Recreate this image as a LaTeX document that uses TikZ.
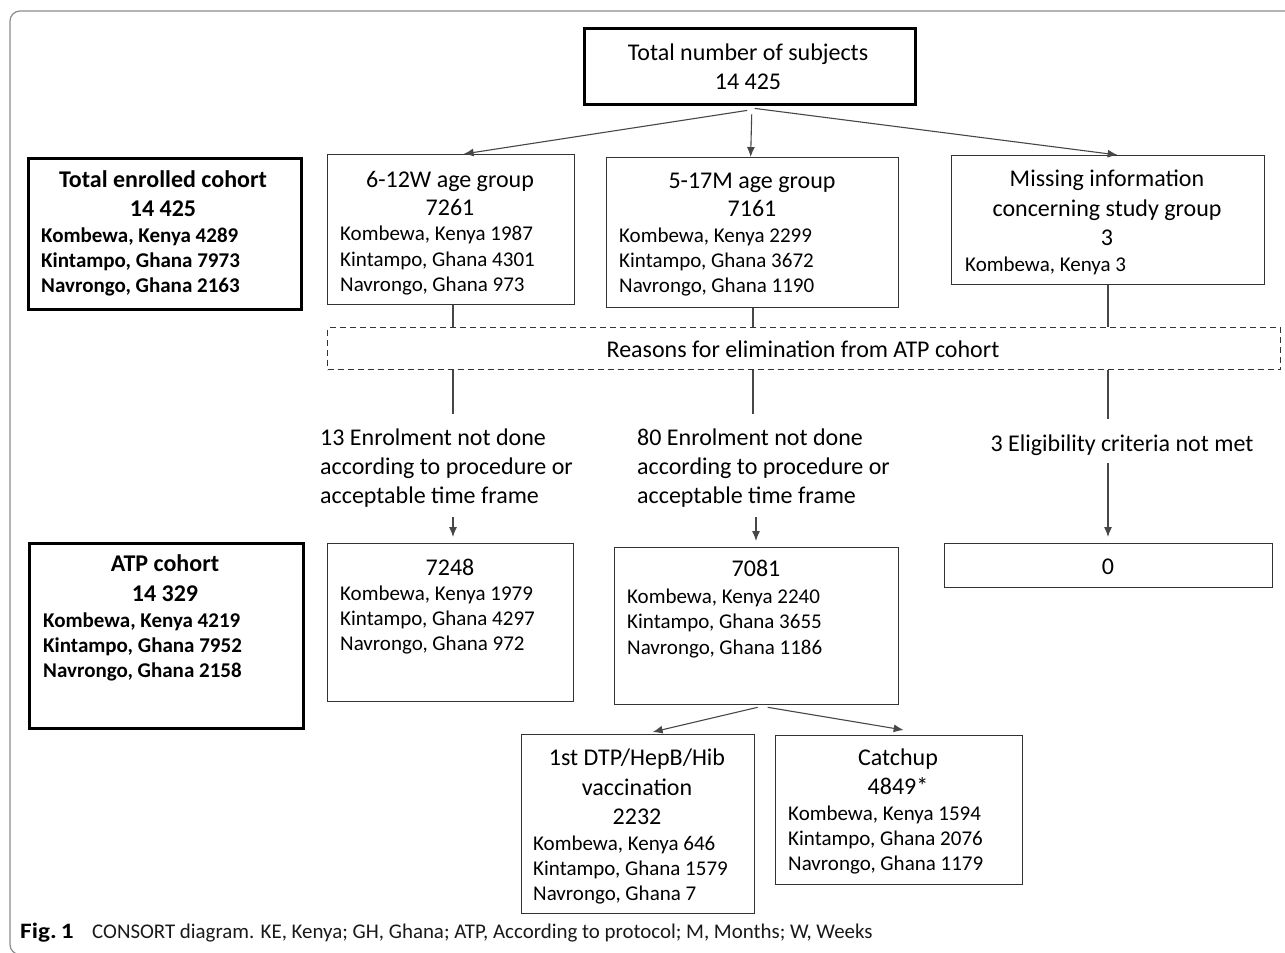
\documentclass[tikz,border=0pt]{standalone}
\usepackage{fontspec}
\setmainfont{Carlito}
\usetikzlibrary{arrows.meta,calc}
\begin{document}
\begin{tikzpicture}[x=1pt,y=-1pt,
  thinbox/.style={draw=black!80, line width=1.3pt, inner sep=0pt, anchor=north west},
  thickbox/.style={draw=black, line width=3.4pt, inner sep=0pt, anchor=north west},
  dashbox/.style={draw=black!80, line width=1.2pt, dash pattern=on 6pt off 4pt, inner sep=0pt, anchor=north west},
  conn/.style={draw=black!72, line width=1.1pt},
  arr/.style={conn, -{Latex[length=10pt,width=8pt]}},
  T/.style={anchor=base, inner sep=0pt, font=\fontsize{24}{28}\selectfont},
  TB/.style={anchor=base, inner sep=0pt, font=\fontsize{24}{28}\selectfont\bfseries},
  R/.style={anchor=base west, inner sep=0pt, font=\fontsize{24}{28}\selectfont},
  L/.style={anchor=base west, inner sep=0pt, font=\fontsize{21}{25}\selectfont},
  LB/.style={anchor=base west, inner sep=0pt, font=\fontsize{21}{25}\selectfont\bfseries}]
\useasboundingbox (0,0) rectangle (1285,953);
% outer frame
\draw[draw=black!45, line width=1.2pt, rounded corners=10pt] (1300,11) -- (10,11) -- (10,954.5) -- (60,954.5);

% boxes
\node[thickbox, minimum width=331pt, minimum height=76pt] (top) at (583,27) {};
\node[thickbox, minimum width=273pt, minimum height=151pt] (enr) at (27,157) {};
\node[thinbox, minimum width=247pt, minimum height=150pt] (g612) at (327,154) {};
\node[thinbox, minimum width=292pt, minimum height=150pt] (g517) at (606,157) {};
\node[thinbox, minimum width=313pt, minimum height=129pt] (miss) at (951,155) {};
\node[dashbox, minimum width=953pt, minimum height=42pt] (dash) at (327,327) {};
\node[thinbox, minimum width=246pt, minimum height=158pt] (b7248) at (327,543) {};
\node[thinbox, minimum width=284pt, minimum height=157pt] (b7081) at (614,547) {};
\node[thinbox, minimum width=328pt, minimum height=44pt] (b0) at (944,543) {};
\node[thickbox, minimum width=274pt, minimum height=185pt] (atp) at (28,542) {};
\node[thinbox, minimum width=233pt, minimum height=179pt] (dtp) at (521,734) {};
\node[thinbox, minimum width=247pt, minimum height=149pt] (catch) at (775,735) {};

% texts
\node[T] (top1) at (748,60) {Total number of subjects};
\node[T] (top2) at (748,89) {14 425};

\node[TB] (en1) at (163,187) {Total enrolled cohort};
\node[TB] (en2) at (163,216) {14 425};
\node[LB] (en3) at (41,242) {Kombewa, Kenya 4289};
\node[LB] (en4) at (41,267) {Kintampo, Ghana 7973};
\node[LB] (en5) at (41,292) {Navrongo, Ghana 2163};

\node[T] (ga1) at (450,187) {6-12W age group};
\node[T] (ga2) at (450,215) {7261};
\node[L] (ga3) at (340,240) {Kombewa, Kenya 1987};
\node[L] (ga4) at (340,266) {Kintampo, Ghana 4301};
\node[L] (ga5) at (340,291) {Navrongo, Ghana 973};

\node[T] (gb1) at (752,188) {5-17M age group};
\node[T] (gb2) at (752,216) {7161};
\node[L] (gb3) at (619,242) {Kombewa, Kenya 2299};
\node[L] (gb4) at (619,267) {Kintampo, Ghana 3672};
\node[L] (gb5) at (619,292) {Navrongo, Ghana 1190};

\node[T] (mi1) at (1107,186) {Missing information};
\node[T] (mi2) at (1107,216) {concerning study group};
\node[T] (mi3) at (1107,245) {3};
\node[L] (mi4) at (965,271) {Kombewa, Kenya 3};

\node[T] (dt) at (803,357) {Reasons for elimination from ATP cohort};

\node[R] (ra1) at (320,445) {13 Enrolment not done};
\node[R] (ra2) at (320,474) {according to procedure or};
\node[R] (ra3) at (320,503) {acceptable time frame};
\node[R] (rb1) at (637,445) {80 Enrolment not done};
\node[R] (rb2) at (637,474) {according to procedure or};
\node[R] (rb3) at (637,503) {acceptable time frame};
\node[T] (rc1) at (1122,451) {3 Eligibility criteria not met};

\node[T] (ka1) at (450,575) {7248};
\node[L] (ka2) at (340,600) {Kombewa, Kenya 1979};
\node[L] (ka3) at (340,625) {Kintampo, Ghana 4297};
\node[L] (ka4) at (340,650) {Navrongo, Ghana 972};

\node[T] (kb1) at (756,576) {7081};
\node[L] (kb2) at (627,603) {Kombewa, Kenya 2240};
\node[L] (kb3) at (627,628) {Kintampo, Ghana 3655};
\node[L] (kb4) at (627,654) {Navrongo, Ghana 1186};

\node[T] (z1) at (1108,574) {0};

\node[TB] (at1) at (165,571) {ATP cohort};
\node[TB] (at2) at (165,601) {14 329};
\node[LB] (at3) at (43,627) {Kombewa, Kenya 4219};
\node[LB] (at4) at (43,652) {Kintampo, Ghana 7952};
\node[LB] (at5) at (43,677) {Navrongo, Ghana 2158};

\node[T] (d1) at (637,765) {1st DTP/HepB/Hib};
\node[T] (d2) at (637,795) {vaccination};
\node[T] (d3) at (637,824) {2232};
\node[L] (d4) at (533,850) {Kombewa, Kenya 646};
\node[L] (d5) at (533,875) {Kintampo, Ghana 1579};
\node[L] (d6) at (533,900) {Navrongo, Ghana 7};

\node[T] (c1t) at (898,765) {Catchup};
\node[T] (c2t) at (898,794) {4849*};
\node[L] (c3t) at (788,820) {Kombewa, Kenya 1594};
\node[L] (c4t) at (788,845) {Kintampo, Ghana 2076};
\node[L] (c5t) at (788,870) {Navrongo, Ghana 1179};

% caption
\node[anchor=base west, inner sep=0pt, font=\fontsize{22}{24}\selectfont\bfseries] (fig) at (20,938) {\scalebox{1.15}[1]{Fig.\,1}};
\node[anchor=base west, inner sep=0pt, font=\fontsize{20.9}{24}\selectfont, text=black!90] (cap) at (92,938) {CONSORT diagram. KE, Kenya; GH, Ghana; ATP, According to protocol; M, Months; W, Weeks};

% column coordinates and free ends
\coordinate (c1) at (453,0);
\coordinate (c2) at (753,0);
\coordinate (c3) at (1108,0);
\coordinate (e1) at (453,414);
\coordinate (e2) at (753,414);
\coordinate (e3) at (1108,419);
\coordinate (s1) at (453,517);
\coordinate (s2) at (756,517);
\coordinate (s3) at (1108,463);

% connectors
\draw[arr] ($(top.south)+(-3,4)$) -- ($(g612.north)+(12.5,0)$);
\draw[arr] ($(top.south)+(1.5,8)$) -- ($(g517.north)+(-2,0)$);
\draw[arr] ($(top.south)+(4.5,2)$) -- ($(miss.north)+(9.5,0)$);

\draw[conn] (g612.south -| c1) -- (dash.north -| c1);
\draw[conn] (g517.south -| c2) -- (dash.north -| c2);
\draw[conn] (miss.south -| c3) -- (dash.north -| c3);
\draw[conn] (dash.south -| c1) -- (e1);
\draw[conn] (dash.south -| c2) -- (e2);
\draw[conn] (dash.south -| c3) -- (e3);

\draw[arr, shorten >=6pt] (s1) -- (s1 |- b7248.north);
\draw[arr, shorten >=6pt] (s2) -- (s2 |- b7081.north);
\draw[arr, shorten >=6pt] (s3) -- (s3 |- b0.north);

\draw[arr] ($(b7081.south)+(1,2)$) -- ($(dtp.north)+(14.5,-2)$);
\draw[arr] ($(b7081.south)+(11,2)$) -- ($(catch.north)+(4.5,-5)$);
\end{tikzpicture}
\end{document}
